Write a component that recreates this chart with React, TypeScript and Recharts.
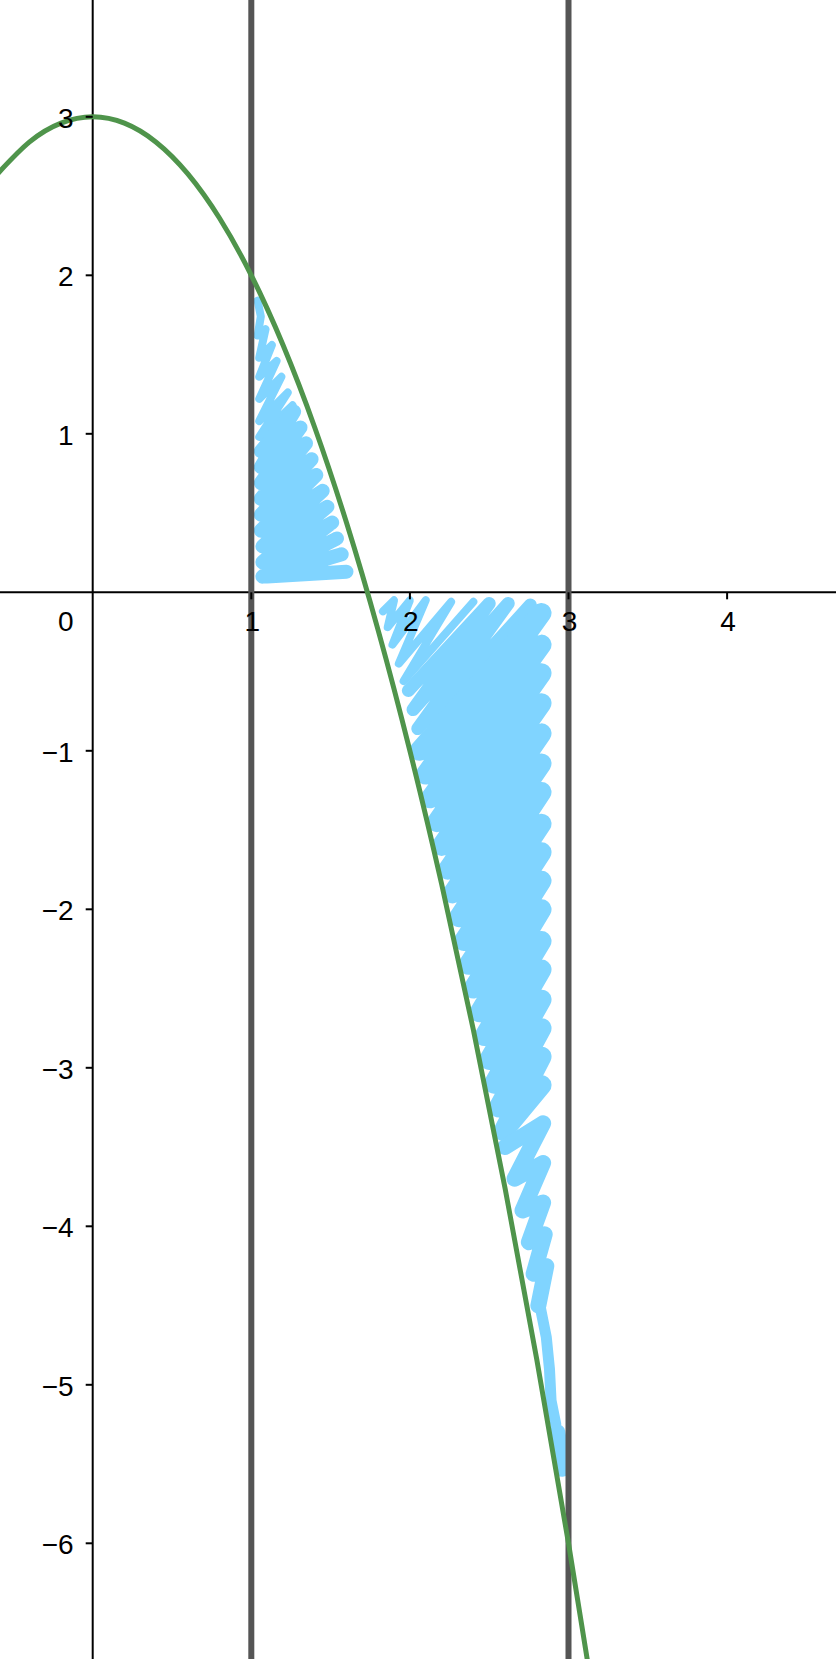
import React from 'react';
import { ComposedChart, Line, Scatter, XAxis, YAxis, ReferenceLine } from 'recharts';

// parabola
const curveX = [-0.6, -0.4, -0.2, 0, 0.2, 0.4, 0.6, 0.8, 1, 1.2, 1.4, 1.6, 1.8, 2, 2.2, 2.4, 2.6, 2.8, 3, 3.2];
const curveY = [2.64, 2.84, 2.96, 3, 2.96, 2.84, 2.64, 2.36, 2, 1.56, 1.04, 0.44, -0.24, -1, -1.84, -2.76, -3.76, -4.84, -6, -7.24];

const boundsX = [1, 3];

const xTickValues = [1, 2, 3, 4];
const xTickLabels = ['1', '2', '3', '4'];
const yTickValues = [-6, -5, -4, -3, -2, -1, 1, 2, 3];
const yTickLabels = ['−6', '−5', '−4', '−3', '−2', '−1', '1', '2', '3'];

// hand shading, traced as zigzag strokes [x, y]
const shadeTop: number[][] = [
  [1.04, 1.84], [1.06, 1.74], [1.04, 1.62], [1.09, 1.66], [1.05, 1.48], [1.13, 1.56],
  [1.05, 1.36], [1.16, 1.46], [1.05, 1.22], [1.19, 1.36], [1.05, 1.08], [1.23, 1.26],
  [1.05, 0.98], [1.26, 1.18],
];
const shadeLeft: number[][] = [
  [1.06, 0.89], [1.27, 1.14], [1.06, 0.79], [1.31, 1.04], [1.06, 0.69], [1.345, 0.94],
  [1.06, 0.59], [1.38, 0.84], [1.06, 0.49], [1.41, 0.74], [1.06, 0.39], [1.45, 0.64],
  [1.07, 0.29], [1.48, 0.54], [1.07, 0.19], [1.51, 0.44], [1.07, 0.1], [1.54, 0.34],
  [1.08, 0.1], [1.57, 0.24], [1.1, 0.1], [1.6, 0.13],
];
const shadeThin: number[][] = [
  [1.83, -0.12], [1.9, -0.05], [1.86, -0.22], [2.0, -0.05], [1.89, -0.33], [2.1, -0.05],
  [1.93, -0.45], [2.26, -0.06], [1.96, -0.56], [2.4, -0.06],
];
const shadeMid: number[][] = [
  [1.99, -0.62], [2.5, -0.07], [2.02, -0.74], [2.62, -0.07], [2.05, -0.86], [2.76, -0.08],
];
const shadeThick: number[][] = [
  [2.06, -1.0], [2.83, -0.13], [2.1, -1.15], [2.83, -0.33], [2.13, -1.3], [2.83, -0.51],
  [2.17, -1.45], [2.83, -0.7], [2.2, -1.6], [2.83, -0.89], [2.24, -1.75], [2.83, -1.08],
  [2.27, -1.9], [2.83, -1.26], [2.31, -2.05], [2.83, -1.46], [2.34, -2.2], [2.83, -1.64],
  [2.37, -2.35], [2.83, -1.82], [2.4, -2.5], [2.83, -2.0], [2.44, -2.65], [2.83, -2.2],
  [2.47, -2.8], [2.83, -2.38], [2.5, -2.95], [2.83, -2.57], [2.53, -3.1], [2.83, -2.75],
  [2.56, -3.25], [2.83, -2.93], [2.59, -3.4], [2.83, -3.11],
];
const shadeLow: number[][] = [
  [2.6, -3.5], [2.84, -3.35], [2.66, -3.7], [2.84, -3.6], [2.71, -3.9], [2.84, -3.85],
  [2.75, -4.1], [2.85, -4.05], [2.78, -4.3], [2.86, -4.25], [2.81, -4.5],
];
const shadeTail: number[][] = [[2.82, -4.5], [2.86, -4.7], [2.88, -4.9], [2.89, -5.1], [2.92, -5.25]];
const shadeTip: number[][] = [[2.93, -5.3], [2.95, -5.42], [2.96, -5.53]];

const W = 836;
const H = 1659;
const FONT = '"Liberation Sans", Arial, sans-serif';
const BLUE = '#80d4ff';

const toPts = (arr: number[][]) => arr.map(([x, y]) => ({ x, y }));
const curveData = curveX.map((x, i) => ({ x, y: curveY[i] }));
const xTickData = xTickValues.map((x, i) => ({ x, y: 0, label: xTickLabels[i] }));
const yTickData = yTickValues.map((y, i) => ({ x: 0, y, label: yTickLabels[i] }));

const strokes = [
  { data: shadeTop, w: 8 },
  { data: shadeLeft, w: 14 },
  { data: shadeThin, w: 8 },
  { data: shadeMid, w: 13 },
  { data: shadeThick, w: 20 },
  { data: shadeLow, w: 16 },
  { data: shadeTail, w: 11 },
  { data: shadeTip, w: 16 },
];

const XTick = (props: any) => {
  const { cx, cy, payload } = props;
  return (
    <g>
      <line x1={cx} y1={cy} x2={cx} y2={cy + 7} stroke="#000" strokeWidth={2} />
      <text x={cx + 1} y={cy + 39} textAnchor="middle" fontSize={28} fontFamily={FONT} fill="#000">
        {payload.label}
      </text>
    </g>
  );
};

const YTick = (props: any) => {
  const { cx, cy, payload } = props;
  return (
    <g>
      <line x1={cx - 7} y1={cy} x2={cx} y2={cy} stroke="#000" strokeWidth={2} />
      <text x={cx - 19} y={cy + 11} textAnchor="end" fontSize={28} fontFamily={FONT} fill="#000">
        {payload.label}
      </text>
    </g>
  );
};

const OriginLabel = (props: any) => {
  const { cx, cy } = props;
  return (
    <text x={cx - 19} y={cy + 39} textAnchor="end" fontSize={28} fontFamily={FONT} fill="#000">
      0
    </text>
  );
};

export default function App() {
  return (
    <div style={{ width: W, height: H, background: '#fff' }}>
      <style>{'body{margin:0}'}</style>
      <ComposedChart width={W} height={H} margin={{ top: 0, right: 0, bottom: 0, left: 0 }}>
        <XAxis type="number" dataKey="x" domain={[-0.5845, 4.6866]} allowDataOverflow hide />
        <YAxis type="number" dataKey="y" domain={[-6.73, 3.737]} allowDataOverflow hide />

        <ReferenceLine y={0} stroke="#000" strokeWidth={2} />
        <ReferenceLine x={0} stroke="#000" strokeWidth={2} />

        <Scatter data={xTickData} shape={XTick} isAnimationActive={false} />
        <Scatter data={yTickData} shape={YTick} isAnimationActive={false} />
        <Scatter data={[{ x: 0, y: 0 }]} shape={OriginLabel} isAnimationActive={false} />

        {strokes.map((s, i) => (
          <Line
            key={`shade-${i}`}
            data={toPts(s.data)}
            dataKey="y"
            type="linear"
            stroke={BLUE}
            strokeWidth={s.w}
            strokeLinecap="round"
            strokeLinejoin="round"
            dot={false}
            activeDot={false}
            isAnimationActive={false}
          />
        ))}

        {boundsX.map((x) => (
          <ReferenceLine key={`b-${x}`} x={x} stroke="#555" strokeWidth={6} />
        ))}

        <Line
          data={curveData}
          dataKey="y"
          type="natural"
          stroke="#4f944b"
          strokeWidth={5}
          dot={false}
          activeDot={false}
          isAnimationActive={false}
        />
      </ComposedChart>
    </div>
  );
}
